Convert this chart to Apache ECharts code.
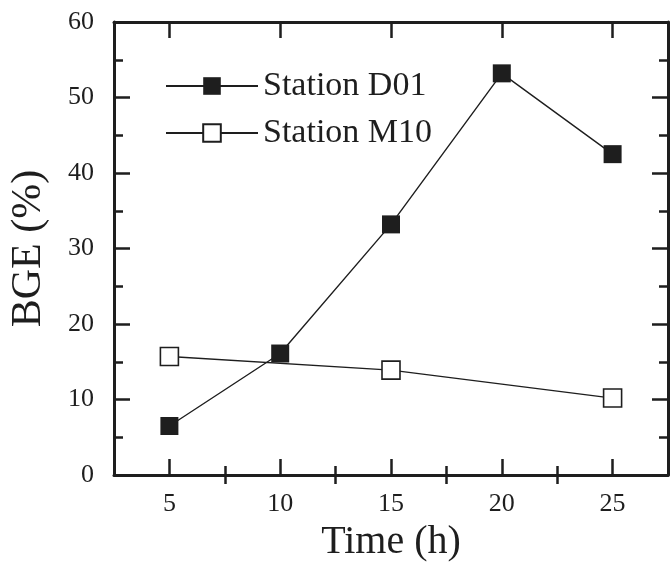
<!DOCTYPE html>
<html>
<head>
<meta charset="utf-8">
<script src="https://cdn.jsdelivr.net/npm/echarts@6/dist/echarts.min.js"></script>
<style>
  html, body { margin: 0; padding: 0; background: #fff; }
  #chart { width: 670px; height: 567px; }
</style>
</head>
<body>
<div id="chart"></div>
<script>
// data
var hours = [5, 10, 15, 20, 25];
var minorHours = [7.5, 12.5, 17.5, 22.5];
var stationD01 = [6.5, 16.1, 33.2, 53.2, 42.5];
var hoursM10 = [5, 15, 25];
var stationM10 = [15.7, 13.9, 10.2];

var font = 'Liberation Serif';
var ink = '#1e1e1e';

var chart = echarts.init(document.getElementById('chart'));

function frameAxis(extra) {
  var base = {
    type: 'value',
    axisLine: { show: true, onZero: false, lineStyle: { color: ink, width: 3 } },
    axisTick: { show: true, inside: true, length: 16, lineStyle: { color: ink, width: 2.5 } },
    minorTick: { show: true, splitNumber: 2, length: 9, lineStyle: { color: ink, width: 2.5 } },
    splitLine: { show: false },
    axisLabel: { show: false }
  };
  return Object.assign(base, extra);
}

// x axes: major ticks on a framed axis, minor ticks on a bare one
function xMajor(pos, extra) {
  return frameAxis(Object.assign({
    min: 2.5, max: 27.5, position: pos,
    axisTick: { show: true, inside: true, length: 16, lineStyle: { color: ink, width: 2.5 }, customValues: hours },
    minorTick: { show: false }
  }, extra || {}));
}
function xMinor(pos) {
  return frameAxis({
    min: 2.5, max: 27.5, position: pos,
    axisLine: { show: false },
    axisTick: { show: true, inside: true, length: 9, lineStyle: { color: ink, width: 2.5 }, customValues: minorHours },
    minorTick: { show: false }
  });
}

var option = {
  backgroundColor: '#fff',
  animation: false,
  textStyle: { fontFamily: font },
  grid: { left: 114, right: 2, top: 22, bottom: 84 },
  legend: {
    orient: 'vertical',
    left: 160,
    top: 64,
    itemWidth: 92,
    itemHeight: 22,
    itemGap: 13,
    textStyle: { fontFamily: font, fontSize: 34, color: ink },
    data: ['Station D01', 'Station M10']
  },
  xAxis: [
    xMajor('bottom', {
      axisLabel: {
        show: true, margin: 16, fontFamily: font, fontSize: 26, color: ink,
        customValues: hours
      },
      name: 'Time (h)',
      nameLocation: 'middle',
      nameGap: 46,
      nameTextStyle: { fontFamily: font, fontSize: 40, color: ink }
    }),
    xMajor('top'),
    xMinor('bottom'),
    xMinor('top')
  ],
  yAxis: [
    frameAxis({
      min: 0, max: 60, interval: 10,
      position: 'left',
      axisLabel: { show: true, margin: 20, fontFamily: font, fontSize: 26, color: ink },
      name: 'BGE (%)',
      nameLocation: 'middle',
      nameGap: 64,
      nameTextStyle: { fontFamily: font, fontSize: 42, color: ink }
    }),
    frameAxis({ min: 0, max: 60, interval: 10, position: 'right' })
  ],
  series: [
    {
      name: 'Station M10',
      type: 'line',
      xAxisIndex: 0, yAxisIndex: 0,
      data: hoursM10.map(function (h, i) { return [h, stationM10[i]]; }),
      symbol: 'rect',
      symbolSize: 18,
      lineStyle: { color: ink, width: 1.4 },
      itemStyle: { color: '#fff', borderColor: ink, borderWidth: 1.6 },
      z: 2
    },
    {
      name: 'Station D01',
      type: 'line',
      xAxisIndex: 0, yAxisIndex: 0,
      data: hours.map(function (h, i) { return [h, stationD01[i]]; }),
      symbol: 'rect',
      symbolSize: 18,
      lineStyle: { color: ink, width: 1.4 },
      itemStyle: { color: ink, borderColor: ink, borderWidth: 0 },
      z: 3
    }
  ]
};

chart.setOption(option);
</script>
</body>
</html>
